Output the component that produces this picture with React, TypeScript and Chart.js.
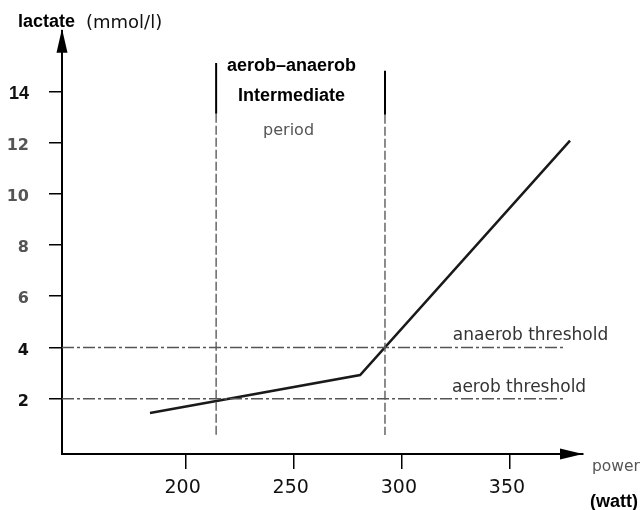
import React, { useEffect, useRef } from 'react';
import { Chart, registerables } from 'chart.js';

Chart.register(...registerables);

// ---- data ----
const powerTicks = [200, 250, 300, 350];
const lactateTicks = [2, 4, 6, 8, 10, 12, 14];
const powerRange = [142.8, 383.8];
const lactateRange = [-0.16, 16.36];

const curvePower = [183.5, 280.7, 377.8];
const curveLactate = [1.44, 2.92, 12.07];

const aerobThreshold = 2;
const anaerobThreshold = 4;
const thresholdEndPower = 375.5;

const aerobPower = 214.1;
const anaerobPower = 292.2;
const markerTops = [15.1, 14.8];
const markerSolidEnd = [13.12, 13.08];
const markerBottom = 0.58;

const periodLines = ['aerob\u2013anaerob', 'Intermediate', 'period'];
const thresholdLabels = ['anaerob threshold', 'aerob threshold'];

const pts = (xs: number[], ys: number[]) => xs.map((x, i) => ({ x, y: ys[i] }));

export default function App() {
  const ref = useRef<HTMLCanvasElement | null>(null);

  useEffect(() => {
    if (!ref.current) return;

    const deco = {
      id: 'deco',
      afterDraw(chart: any) {
        const { ctx, chartArea: a, scales } = chart;
        const xs = scales.x;
        const ys = scales.y;
        ctx.save();
        ctx.fillStyle = '#000';
        // y arrow
        ctx.beginPath();
        ctx.moveTo(a.left, a.top - 2);
        ctx.lineTo(a.left - 5.5, a.top + 22);
        ctx.lineTo(a.left + 5.5, a.top + 22);
        ctx.closePath();
        ctx.fill();
        // x arrow
        ctx.beginPath();
        ctx.moveTo(a.right, a.bottom);
        ctx.lineTo(a.right - 23, a.bottom - 5.5);
        ctx.lineTo(a.right - 23, a.bottom + 5.5);
        ctx.closePath();
        ctx.fill();

        ctx.textBaseline = 'middle';
        // axis titles
        ctx.textAlign = 'left';
        ctx.font = 'bold 18px "Liberation Sans", Arial, sans-serif';
        ctx.fillText('lactate', 18, 22);
        ctx.font = '18px "DejaVu Sans", sans-serif';
        ctx.fillStyle = '#111';
        ctx.fillText('(mmol/l)', 86, 23);
        ctx.font = '15.5px "DejaVu Sans", sans-serif';
        ctx.fillStyle = '#555';
        ctx.fillText('power', a.right + 9, a.bottom + 13);
        ctx.font = 'bold 18px "Liberation Sans", Arial, sans-serif';
        ctx.fillStyle = '#000';
        ctx.fillText('(watt)', a.right + 7, a.bottom + 48);

        // period text
        const cx = xs.getPixelForValue(249);
        ctx.textAlign = 'center';
        ctx.font = 'bold 18px "Liberation Sans", Arial, sans-serif';
        ctx.fillStyle = '#000';
        ctx.fillText(periodLines[0], cx, ys.getPixelForValue(14.99));
        ctx.fillText(periodLines[1], cx, ys.getPixelForValue(13.82));
        ctx.font = '16px "DejaVu Sans", sans-serif';
        ctx.fillStyle = '#555';
        ctx.fillText(periodLines[2], cx - 3, ys.getPixelForValue(12.46));

        // threshold labels
        ctx.textAlign = 'left';
        ctx.font = '17px "DejaVu Sans", sans-serif';
        ctx.fillStyle = '#333';
        ctx.fillText(thresholdLabels[0], xs.getPixelForValue(323.6), ys.getPixelForValue(4.48));
        ctx.fillText(thresholdLabels[1], xs.getPixelForValue(323.2), ys.getPixelForValue(2.45));
        ctx.restore();
      },
    };

    const dashed = { borderColor: '#555', borderWidth: 1.5, borderDash: [12, 3, 3, 3], pointRadius: 0 };
    const vDashed = { borderColor: '#666', borderWidth: 1.5, borderDash: [9, 3], pointRadius: 0 };
    const vSolid = { borderColor: '#000', borderWidth: 2, pointRadius: 0 };

    const chart = new Chart(ref.current, {
      type: 'line',
      data: {
        datasets: [
          {
            data: [{ x: powerRange[0], y: anaerobThreshold }, { x: thresholdEndPower, y: anaerobThreshold }],
            ...dashed,
          },
          {
            data: [{ x: powerRange[0], y: aerobThreshold }, { x: thresholdEndPower, y: aerobThreshold }],
            ...dashed,
          },
          { data: [{ x: aerobPower, y: markerSolidEnd[0] }, { x: aerobPower, y: markerBottom }], ...vDashed },
          { data: [{ x: anaerobPower, y: markerSolidEnd[1] }, { x: anaerobPower, y: markerBottom }], ...vDashed },
          { data: [{ x: aerobPower, y: markerTops[0] }, { x: aerobPower, y: markerSolidEnd[0] }], ...vSolid },
          { data: [{ x: anaerobPower, y: markerTops[1] }, { x: anaerobPower, y: markerSolidEnd[1] }], ...vSolid },
          {
            data: pts(curvePower, curveLactate),
            borderColor: '#1a1a1a',
            borderWidth: 2.5,
            pointRadius: 0,
            tension: 0,
          },
        ] as any,
      },
      options: {
        animation: false,
        responsive: true,
        maintainAspectRatio: false,
        layout: { padding: { left: 0, top: 30, right: 59, bottom: 0 } },
        plugins: { legend: { display: false }, tooltip: { enabled: false } },
        scales: {
          x: {
            type: 'linear',
            min: powerRange[0],
            max: powerRange[1],
            afterBuildTicks: (s: any) => {
              s.ticks = powerTicks.map((v) => ({ value: v }));
            },
            afterFit: (s: any) => {
              s.height = 56;
            },
            grid: { drawOnChartArea: false, drawTicks: true, tickLength: 15, color: '#000', lineWidth: 1.5 },
            border: { display: true, color: '#000', width: 2 },
            ticks: {
              padding: 8,
              labelOffset: -3,
              color: '#111',
              font: { family: '"DejaVu Sans", sans-serif', size: 19 },
              callback: (v: any) => String(v),
            },
          },
          y: {
            type: 'linear',
            min: lactateRange[0],
            max: lactateRange[1],
            afterBuildTicks: (s: any) => {
              s.ticks = lactateTicks.map((v) => ({ value: v }));
            },
            afterFit: (s: any) => {
              s.width = 62;
            },
            grid: { drawOnChartArea: false, drawTicks: true, tickLength: 13, color: '#000', lineWidth: 1.5 },
            border: { display: true, color: '#000', width: 2 },
            ticks: {
              padding: 20,
              labelOffset: 3,
              color: (c: any) => (c.tick && (c.tick.value === 14 || c.tick.value <= 4) ? '#111' : '#555'),
              font: (c: any) =>
                c.tick && c.tick.value === 14
                  ? { family: '"Liberation Sans", Arial, sans-serif', size: 18, weight: 'bold' }
                  : { family: '"DejaVu Sans", sans-serif', size: 16, weight: 'bold' },
              callback: (v: any) => String(v),
            },
          },
        },
      } as any,
      plugins: [deco],
    });

    return () => chart.destroy();
  }, []);

  return (
    <div style={{ position: 'absolute', left: 0, top: 0, width: 642, height: 510, background: '#fff' }}>
      <canvas ref={ref} />
    </div>
  );
}
